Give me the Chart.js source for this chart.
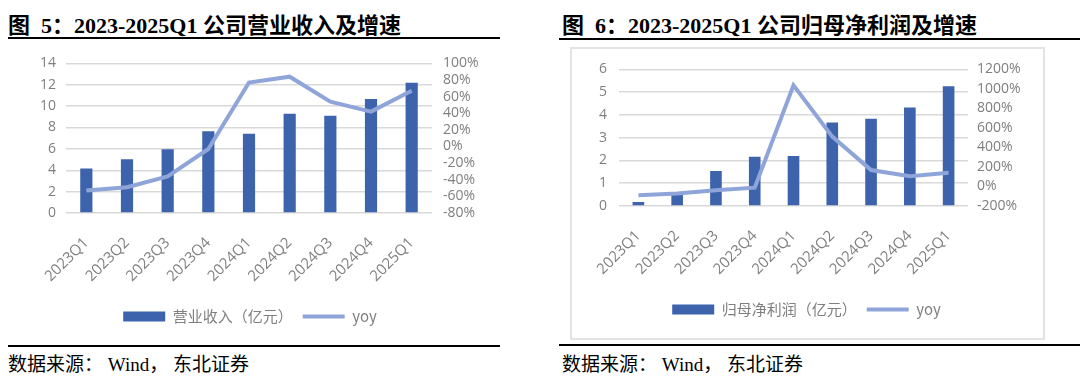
<!DOCTYPE html>
<html>
<head>
<meta charset="utf-8">
<script src="https://cdn.jsdelivr.net/npm/chart.js@4"></script>
<style>
    body { margin: 0; background: #fff; width: 1080px; height: 379px; position: relative; overflow: hidden; }
    .title { position: absolute; top: 7px; font: bold 22px "Liberation Serif", "Noto Sans CJK SC"; color: #000; white-space: nowrap; }
    .rule { position: absolute; height: 2px; background: #000; }
    .source { position: absolute; top: 349px; font: 19px "Liberation Serif", "Noto Sans CJK SC"; color: #000; white-space: nowrap; }
    .box { position: absolute; left: 570px; top: 47px; width: 471px; height: 289px; border: 2px solid #e3e3e3; }
    .wrap { position: absolute; }
</style>
</head>
<body>
<div class="title" style="left:8px">图&nbsp;&nbsp;5：2023-2025Q1 公司营业收入及增速</div>
<div class="rule" style="left:8px; top:37px; width:492px"></div>
<div class="title" style="left:562px">图&nbsp;&nbsp;6：2023-2025Q1 公司归母净利润及增速</div>
<div class="rule" style="left:559px; top:38px; width:521px"></div>

<div class="wrap" style="left:0px; top:44px; width:500px; height:290px"><canvas id="revenueChart"></canvas></div>
<div class="box"></div>
<div class="wrap" style="left:572px; top:49px; width:469px; height:287px"><canvas id="profitChart"></canvas></div>

<div class="rule" style="left:8px; top:345px; width:492px"></div>
<div class="source" style="left:8px">数据来源：&nbsp;Wind，&nbsp;东北证券</div>
<div class="rule" style="left:559px; top:344px; width:521px"></div>
<div class="source" style="left:562px">数据来源：&nbsp;Wind，&nbsp;东北证券</div>

<script>
const quarters = ["2023Q1", "2023Q2", "2023Q3", "2023Q4", "2024Q1", "2024Q2", "2024Q3", "2024Q4", "2025Q1"];

// 营业收入 (亿元) and yoy (%)
const revenue = [4.17, 5.04, 5.97, 7.65, 7.41, 9.28, 9.09, 10.68, 12.2];
const revenueYoy = [-53, -49, -36, -3, 77, 84, 54, 42, 67];

// 归母净利润 (亿元) and yoy (%)
const netProfit = [0.18, 0.5, 1.54, 2.16, 2.2, 3.67, 3.83, 4.33, 5.26];
const profitYoy = [-90, -73, -38, -12, 1036, 511, 168, 106, 140];

// axis ranges: [min, max, step]
const revenueAxis = [0, 14, 2];
const revenueYoyAxis = [-80, 100, 20];
const profitAxis = [0, 6, 1];
const profitYoyAxis = [-200, 1200, 200];

const barColor = "#3d63ad";
const lineColor = "#8fa5da";
const tickColor = "#7f7f7f";
const gridColor = "#d9d9d9";
const tickFont = { family: "'Open Sans', 'Noto Sans CJK SC'", size: 14 };

function makeChart(id, barLabel, bars, yoy, leftAxis, rightAxis, layout) {
    const ctx = document.getElementById(id).getContext("2d");
    return new Chart(ctx, {
        type: "bar",
        data: {
            labels: quarters,
            datasets: [
                {
                    type: "line",
                    label: "yoy",
                    data: yoy,
                    yAxisID: "y1",
                    borderColor: lineColor,
                    backgroundColor: lineColor,
                    borderWidth: 4,
                    pointRadius: 0,
                    pointStyle: "line",
                    tension: 0,
                    order: 0
                },
                {
                    label: barLabel,
                    data: bars,
                    yAxisID: "y",
                    backgroundColor: barColor,
                    borderWidth: 0,
                    barPercentage: 0.3,
                    categoryPercentage: 1,
                    pointStyle: "rect",
                    order: 1
                }
            ]
        },
        options: {
            responsive: true,
            maintainAspectRatio: false,
            animation: false,
            layout: { padding: layout.padding },
            plugins: {
                tooltip: { enabled: false },
                legend: {
                    position: "bottom",
                    reverse: true,
                    labels: {
                        usePointStyle: true,
                        pointStyleWidth: 42,
                        boxHeight: 10,
                        padding: 10,
                        color: tickColor,
                        font: { family: "'Noto Sans CJK SC', 'Open Sans'", size: 15 }
                    }
                }
            },
            scales: {
                x: {
                    grid: { display: false },
                    border: { display: false },
                    ticks: { color: tickColor, font: { family: tickFont.family, size: 15 }, minRotation: 45, maxRotation: 45, padding: 13 },
                    afterFit: (scale) => { scale.height = layout.xHeight; }
                },
                y: {
                    position: "left",
                    min: leftAxis[0],
                    max: leftAxis[1],
                    grid: { color: gridColor, lineWidth: 1.5, drawTicks: false },
                    border: { display: false },
                    ticks: { stepSize: leftAxis[2], autoSkip: false, color: tickColor, font: tickFont, padding: layout.leftPad },
                    afterFit: (scale) => { scale.width = layout.leftWidth; }
                },
                y1: {
                    position: "right",
                    min: rightAxis[0],
                    max: rightAxis[1],
                    grid: { display: false, drawTicks: false },
                    border: { display: false },
                    ticks: {
                        stepSize: rightAxis[2],
                        autoSkip: false,
                        color: tickColor,
                        font: tickFont,
                        padding: layout.rightPad,
                        callback: (v) => v + "%"
                    },
                    afterFit: (scale) => { scale.width = layout.rightWidth; }
                }
            }
        }
    });
}

makeChart("revenueChart", "营业收入（亿元）", revenue, revenueYoy, revenueAxis, revenueYoyAxis, {
    padding: { top: 19, left: 0, right: 0, bottom: 0 },
    xHeight: 86,
    leftWidth: 66,
    rightWidth: 68,
    leftPad: 10,
    rightPad: 11
});

makeChart("profitChart", "归母净利润（亿元）", netProfit, profitYoy, profitAxis, profitYoyAxis, {
    padding: { top: 20, left: 0, right: 0, bottom: 9 },
    xHeight: 86,
    leftWidth: 47,
    rightWidth: 73,
    leftPad: 12,
    rightPad: 9
});
</script>
</body>
</html>
